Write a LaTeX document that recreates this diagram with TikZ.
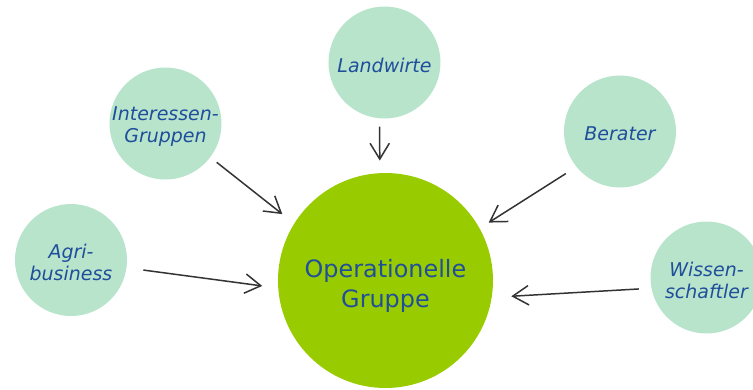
\documentclass[tikz,border=0pt]{standalone}
\usepackage{fontspec}
\setmainfont{DejaVu Sans}
\usetikzlibrary{positioning,arrows.meta}
\definecolor{actorgreen}{RGB}{184,228,204}
\definecolor{oggreen}{RGB}{153,204,0}
\definecolor{textblue}{RGB}{31,78,155}
\definecolor{arrowgray}{RGB}{51,51,51}

\begin{document}
\begin{tikzpicture}[actor/.style={circle, fill=actorgreen, minimum size=2.24cm, inner sep=0pt},
    actor text/.style={text=textblue, font=\fontsize{10.8}{12.5}\selectfont\itshape, align=center, yshift=-1.5pt},
    og block/.style={circle, fill=oggreen, minimum size=4.3cm, inner sep=0pt},
    og text/.style={text=textblue, font=\fontsize{13.6}{16.8}\selectfont, align=center, yshift=-3pt},
    feed/.style={-{Straight Barb[length=9pt,width=11pt]}, draw=arrowgray, line width=0.85pt}]
    \useasboundingbox (-7.71,-2.17) rectangle (7.35,5.61);
    \node[og block, label={[og text]center:Operationelle\\Gruppe}] (og) at (0,0) {};
    \node[actor, label={[actor text]center:Landwirte}] (lw) at (-0.02,4.36) {};
    \node[actor, label={[actor text]center:Interessen-\\Gruppen}] (ig) at (-4.40,3.14) {};
    \node[actor, label={[actor text]center:Berater}] (be) at (4.69,2.98) {};
    \node[actor, label={[actor text]center:Agri-\\business}] (ag) at (-6.29,0.41) {};
    \node[actor, label={[actor text]center:Wissen-\\schaftler}] (wi) at (6.42,0.06) {};
    
    \draw[feed, shorten <=4.5pt, shorten >=7pt] (lw.-95) -- (og.93);
    \draw[feed, shorten <=4.5pt, shorten >=8.5pt] (ig.-37) -- (og.148);
    \draw[feed, shorten <=7pt, shorten >=6pt] (be.219) -- (og.29);
    \draw[feed, shorten <=9.5pt, shorten >=9pt] (ag.-8) -- (og.184);
    \draw[feed, shorten <=7pt, shorten >=11pt] (wi.191) -- (og.-9.5);
\end{tikzpicture}
\end{document}
